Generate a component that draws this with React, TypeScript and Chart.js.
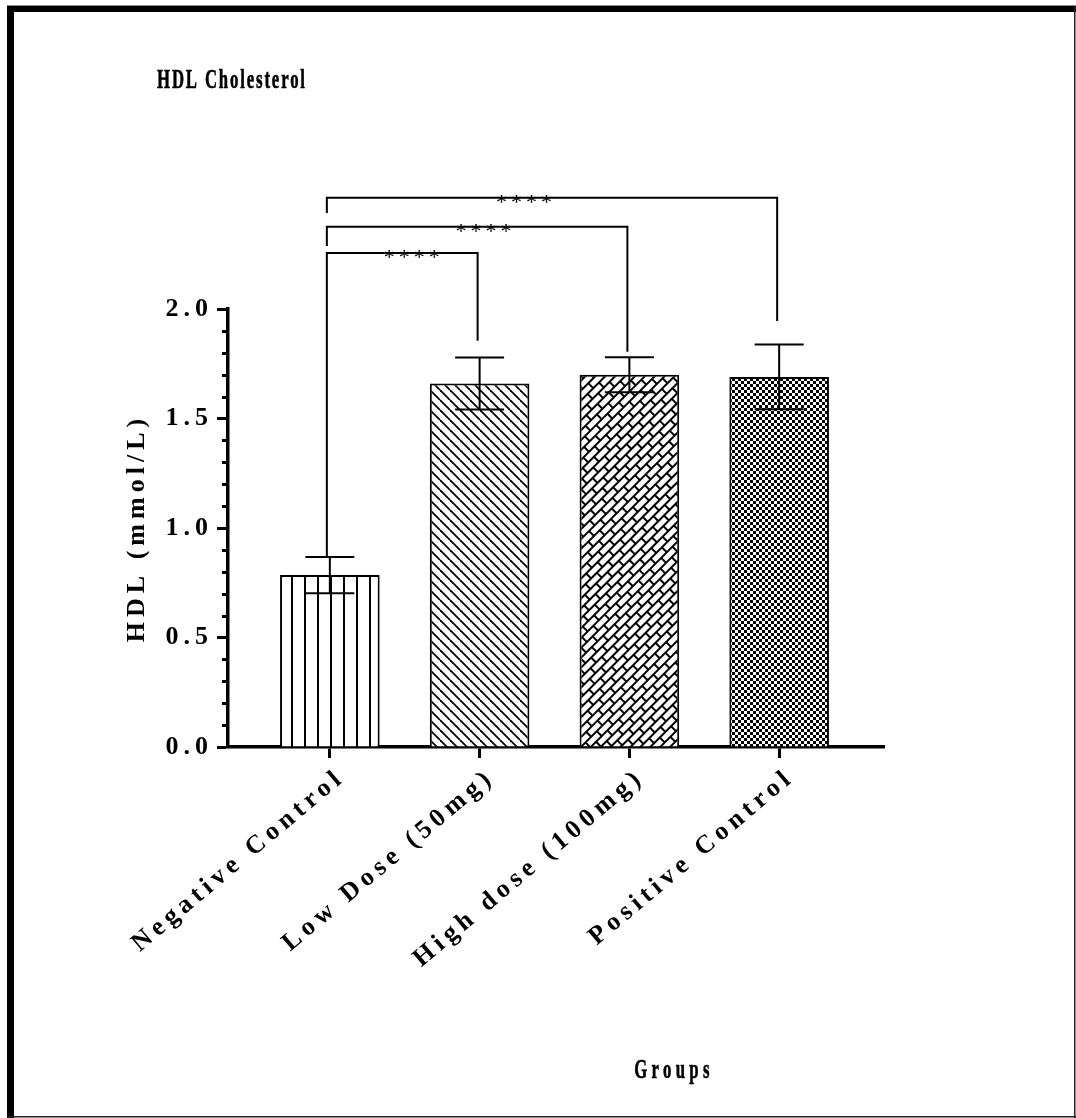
import { useEffect, useRef } from 'react';
import { Chart, registerables } from 'chart.js';

Chart.register(...registerables);

// Groups and HDL values (mmol/L): mean and standard deviation
const groups = ['Negative Control', 'Low Dose (50mg)', 'High dose (100mg)', 'Positive Control'];
const hdlMean = [0.785, 1.66, 1.7, 1.69];
const hdlSd = [0.083, 0.119, 0.08, 0.148];

// Y axis range and major tick step
const yMin = 0;
const yMax = 2;
const yStep = 0.5;
const yMinorPerStep = 5;

// Pairwise comparisons (group indices), significance marks and bracket geometry in mmol/L
const pairFrom = [0, 0, 0];
const pairTo = [1, 2, 3];
const pairStars = ['****', '****', '****'];
const pairLevel = [2.256, 2.376, 2.508];
const pairFromEnd = [0.868, 2.288, 2.438];
const pairToEnd = [1.855, 1.805, 1.945];
const pairStarX = [0.56, 1.04, 1.31];

const chartTitle = 'HDL Cholesterol';
const xTitle = 'Groups';
const yTitle = 'HDL (mmol/L)';

const FONT = "'Liberation Serif', 'Times New Roman', serif";

function tile(w: number, h: number, draw: (g: CanvasRenderingContext2D) => void) {
  const c = document.createElement('canvas');
  c.width = w;
  c.height = h;
  const g = c.getContext('2d')!;
  g.fillStyle = '#fff';
  g.fillRect(0, 0, w, h);
  g.fillStyle = '#000';
  g.strokeStyle = '#000';
  draw(g);
  return c;
}

function makeFills(ctx: CanvasRenderingContext2D) {
  // vertical stripes
  const vertical = ctx.createPattern(
    tile(13, 13, (g) => g.fillRect(5, 0, 2, 13)),
    'repeat'
  )!;
  // diagonal hatch running down to the right
  const diagonal = ctx.createPattern(
    tile(10, 10, (g) => {
      g.lineWidth = 1.8;
      for (let k = -1; k <= 1; k++) {
        g.beginPath();
        g.moveTo(0, k * 10);
        g.lineTo(10, 10 + k * 10);
        g.stroke();
      }
    }),
    'repeat'
  )!;
  // slanted brick
  const brick = ctx.createPattern(
    tile(16, 14, (g) => {
      g.fillRect(0, 0, 16, 2);
      g.fillRect(0, 7, 16, 2);
      g.fillRect(0, 0, 2, 7);
      g.fillRect(8, 7, 2, 7);
    }),
    'repeat'
  )!;
  brick.setTransform(new DOMMatrix().rotate(-45));
  // checkerboard
  const checker = ctx.createPattern(
    tile(6, 6, (g) => {
      g.fillRect(0, 0, 3, 3);
      g.fillRect(3, 3, 3, 3);
    }),
    'repeat'
  )!;
  return [vertical, diagonal, brick, checker];
}

const spacingPlugin = {
  id: 'letterSpacing',
  beforeLayout(chart: any) {
    chart.ctx.letterSpacing = '5px';
  },
  beforeDraw(chart: any) {
    chart.ctx.letterSpacing = '5px';
  },
};

const framePlugin = {
  id: 'frame',
  beforeDraw(chart: any) {
    const { ctx, width, height } = chart;
    ctx.save();
    ctx.fillStyle = '#fff';
    ctx.fillRect(0, 0, width, height);
    ctx.fillStyle = '#888';
    ctx.fillRect(7, 5, width - 7, 1);
    ctx.fillStyle = '#000';
    ctx.fillRect(7, 6, width - 7, 6);
    ctx.fillRect(7, 6, 7, height - 6);
    ctx.fillStyle = '#222';
    ctx.fillRect(width - 2, 6, 1.5, height - 6);
    ctx.fillRect(7, height - 2, width - 7, 1.5);
    ctx.restore();
  },
};

const minorTickPlugin = {
  id: 'minorTicks',
  afterDraw(chart: any) {
    const y = chart.scales.y;
    const ctx = chart.ctx;
    ctx.save();
    ctx.strokeStyle = '#000';
    ctx.lineWidth = 3;
    const step = yStep / yMinorPerStep;
    for (let v = yMin; v <= yMax + 1e-9; v += step) {
      const r = v / yStep;
      if (Math.abs(r - Math.round(r)) < 1e-6) continue;
      const py = Math.round(y.getPixelForValue(v)) + 0.5;
      ctx.beginPath();
      ctx.moveTo(y.right - 6, py);
      ctx.lineTo(y.right, py);
      ctx.stroke();
    }
    ctx.restore();
  },
};

const errorBarPlugin = {
  id: 'errorBars',
  afterDatasetsDraw(chart: any) {
    const meta = chart.getDatasetMeta(0);
    const y = chart.scales.y;
    const ctx = chart.ctx;
    ctx.save();
    ctx.strokeStyle = '#000';
    ctx.lineWidth = 2;
    meta.data.forEach((bar: any, i: number) => {
      const top = y.getPixelForValue(hdlMean[i] + hdlSd[i]);
      const bottom = y.getPixelForValue(hdlMean[i] - hdlSd[i]);
      const half = 24.5;
      ctx.beginPath();
      ctx.moveTo(bar.x, top);
      ctx.lineTo(bar.x, bottom);
      ctx.moveTo(bar.x - half, top);
      ctx.lineTo(bar.x + half, top);
      ctx.moveTo(bar.x - half, bottom);
      ctx.lineTo(bar.x + half, bottom);
      ctx.stroke();
    });
    ctx.restore();
  },
};

const bracketPlugin = {
  id: 'brackets',
  afterDraw(chart: any) {
    const { x, y } = chart.scales;
    const ctx = chart.ctx;
    ctx.save();
    ctx.strokeStyle = '#000';
    ctx.lineWidth = 2;
    pairFrom.forEach((from, i) => {
      const x0 = x.getPixelForValue(from) - 3;
      const x1 = x.getPixelForValue(pairTo[i]) - 2;
      const level = y.getPixelForValue(pairLevel[i]);
      ctx.beginPath();
      ctx.moveTo(x0, y.getPixelForValue(pairFromEnd[i]));
      ctx.lineTo(x0, level);
      ctx.lineTo(x1, level);
      ctx.lineTo(x1, y.getPixelForValue(pairToEnd[i]));
      ctx.stroke();
      ctx.fillStyle = '#000';
      ctx.font = `22px ${FONT}`;
      ctx.letterSpacing = '4px';
      ctx.textAlign = 'center';
      ctx.textBaseline = 'alphabetic';
      ctx.fillText(pairStars[i], x.getPixelForValue(pairStarX[i]), level + 11);
    });
    ctx.restore();
  },
};

// chart heading and x-axis caption, set in narrow bold type
function drawNarrow(ctx: CanvasRenderingContext2D, text: string, x: number, y: number, align: CanvasTextAlign, spacing: number) {
  ctx.save();
  ctx.translate(x, y);
  ctx.scale(0.62, 1);
  ctx.fillStyle = '#000';
  ctx.strokeStyle = '#000';
  ctx.lineWidth = 0.6;
  ctx.font = `bold 27px ${FONT}`;
  (ctx as any).letterSpacing = `${spacing}px`;
  ctx.textAlign = align;
  ctx.textBaseline = 'alphabetic';
  ctx.fillText(text, 0, 0);
  ctx.strokeText(text, 0, 0);
  ctx.restore();
}

const headingPlugin = {
  id: 'headings',
  afterDraw(chart: any) {
    const { chartArea, ctx } = chart;
    drawNarrow(ctx, chartTitle, chartArea.left - 71, 88, 'left', 3);
    drawNarrow(ctx, xTitle, chartArea.left + 446, 1078, 'center', 7);
  },
};

export default function App() {
  const ref = useRef<HTMLCanvasElement>(null);

  useEffect(() => {
    const canvas = ref.current!;
    const ctx = canvas.getContext('2d')!;
    const fills = makeFills(ctx);
    const tickFont = { family: FONT, size: 26, weight: 'bold' as const };

    const chart = new Chart(canvas, {
      type: 'bar',
      data: {
        datasets: [
          {
            data: groups.map((_, i) => ({ x: i, y: hdlMean[i] })),
            backgroundColor: fills as any,
            borderColor: '#000',
            borderWidth: 2,
            barPercentage: 0.665,
            categoryPercentage: 1,
          },
        ],
      },
      options: {
        responsive: false,
        animation: false,
        devicePixelRatio: 1,
        layout: { padding: { left: 110, top: 309, right: 192, bottom: 71 } },
        plugins: {
          legend: { display: false },
          tooltip: { enabled: false },
        },
        scales: {
          x: {
            type: 'linear',
            position: 'bottom',
            min: -0.68,
            max: 3.7,
            offset: false,
            z: 1,
            afterFit: (s: any) => {
              s.height = 300;
              s.paddingLeft = 0;
              s.paddingRight = 0;
            },
            ticks: {
              stepSize: 1,
              includeBounds: false,
              autoSkip: false,
              minRotation: 40,
              maxRotation: 40,
              padding: 4,
              labelOffset: 12,
              color: '#000',
              font: tickFont,
              callback: (v: any) => groups[v] ?? '',
            },
            grid: {
              offset: false,
              drawOnChartArea: false,
              tickLength: 11,
              tickWidth: 3,
              tickColor: '#000',
            },
            border: { color: '#000', width: 3.5 },
          },
          y: {
            min: yMin,
            max: yMax,
            z: 1,
            afterFit: (s: any) => {
              s.width = 118;
            },
            ticks: {
              stepSize: yStep,
              padding: 4,
              color: '#000',
              font: tickFont,
              callback: (v: any) => Number(v).toFixed(1),
            },
            grid: {
              drawOnChartArea: false,
              tickLength: 11,
              tickWidth: 3,
              tickColor: '#000',
            },
            border: { color: '#000', width: 3.5 },
            title: {
              display: true,
              text: yTitle,
              color: '#000',
              font: { family: FONT, size: 26, weight: 'bold' },
              padding: { top: 12, bottom: 0 },
            },
          },
        },
      },
      plugins: [spacingPlugin, framePlugin, minorTickPlugin, errorBarPlugin, bracketPlugin, headingPlugin],
    });

    return () => chart.destroy();
  }, []);

  return (
    <div style={{ position: 'absolute', left: 0, top: 0, width: 1076, height: 1118 }}>
      <canvas ref={ref} width={1076} height={1118} style={{ display: 'block' }} />
    </div>
  );
}
